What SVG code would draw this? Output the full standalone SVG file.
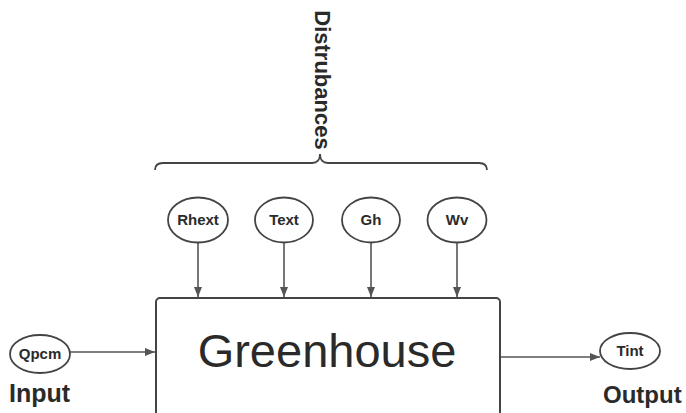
<svg xmlns="http://www.w3.org/2000/svg" width="686" height="413" viewBox="0 0 686 413">
<defs>
<marker id="ah" markerWidth="10" markerHeight="10" refX="10" refY="5" orient="auto" markerUnits="userSpaceOnUse">
<path d="M0,1 L10,5 L0,9 Z" fill="#555"/>
</marker>
<style>
.n{fill:#fff;stroke:#444;stroke-width:1.8}
.c{stroke:#555;stroke-width:1.6;fill:none;marker-end:url(#ah)}
.l{font-family:"Liberation Sans",Arial,sans-serif;font-weight:bold;font-size:15px;fill:#2a2a2a;text-anchor:middle}
.b{font-family:"Liberation Sans",Arial,sans-serif;font-weight:bold;fill:#2a2a2a}
</style>
</defs>
<rect width="686" height="413" fill="#fff"/>
<g id="brace">
<path d="M155,170 Q155,163 163,163 L312,163 Q320,163 320,154 Q320,163 328,163 L479,163 Q487,163 487,170" fill="none" stroke="#444" stroke-width="1.8"/>
<text class="b" font-size="22" text-anchor="middle" transform="translate(315,80) rotate(90)">Distrubances</text>
</g>
<g id="connectors">
<line class="c" x1="198" y1="243" x2="198" y2="297"/>
<line class="c" x1="284" y1="243" x2="284" y2="297"/>
<line class="c" x1="371" y1="243" x2="371" y2="297"/>
<line class="c" x1="457" y1="243" x2="457" y2="297"/>
<line class="c" x1="70" y1="352" x2="155" y2="352"/>
<line class="c" x1="501" y1="357" x2="600" y2="357"/>
</g>
<g id="greenhouse">
<rect x="156" y="298" width="344" height="130" rx="4" fill="#fff" stroke="#444" stroke-width="2"/>
<text x="327" y="367" font-family="'Liberation Sans',Arial,sans-serif" font-size="47" fill="#2a2a2a" text-anchor="middle">Greenhouse</text>
</g>
<g id="rhext"><ellipse class="n" cx="198" cy="220" rx="30" ry="22.5"/><text class="l" x="198" y="225">Rhext</text></g>
<g id="text"><ellipse class="n" cx="284" cy="220" rx="29" ry="22.5"/><text class="l" x="284" y="225">Text</text></g>
<g id="gh"><ellipse class="n" cx="371" cy="220" rx="29" ry="22.5"/><text class="l" x="371" y="225">Gh</text></g>
<g id="wv"><ellipse class="n" cx="457" cy="220" rx="29.5" ry="22.5"/><text class="l" x="457" y="225">Wv</text></g>
<g id="qpcm"><ellipse class="n" cx="40" cy="354" rx="30" ry="19"/><text class="l" x="40" y="359">Qpcm</text>
<text class="b" font-size="25" x="9" y="402">Input</text></g>
<g id="tint"><ellipse class="n" cx="630" cy="351" rx="30" ry="18"/><text class="l" x="630" y="356">Tint</text>
<text class="b" font-size="24" x="603" y="403">Output</text></g>
</svg>
